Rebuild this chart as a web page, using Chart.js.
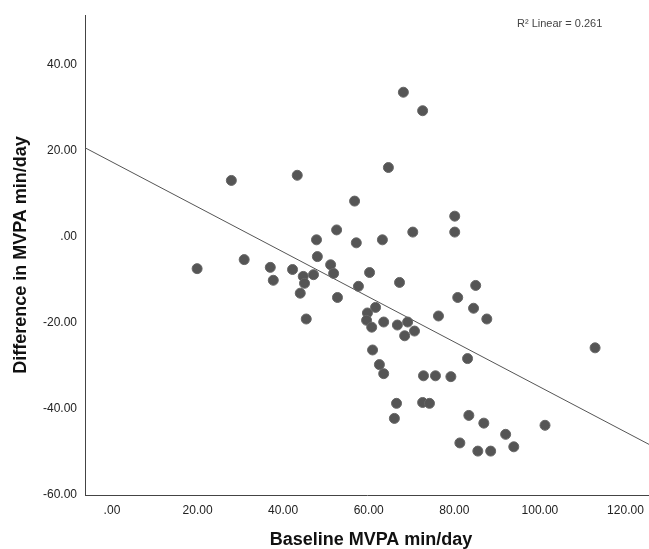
<!DOCTYPE html>
<html>
<head>
<meta charset="utf-8">
<script src="https://cdn.jsdelivr.net/npm/chart.js@4.4.1/dist/chart.umd.min.js"></script>
<style>
  html, body { margin: 0; padding: 0; background: #fff; }
  #wrap { width: 649px; height: 549px; }
</style>
</head>
<body>
<div id="wrap"><canvas id="scatterChart" width="649" height="549"></canvas></div>
<script>
// Baseline MVPA (x) and difference in MVPA (y)
var baselineMvpa = [19.9, 27.9, 30.9, 43.3, 37.0, 37.7, 42.2, 44.7, 45.0, 44.0,
  47.1, 48.0, 47.8, 52.5, 51.1, 51.8, 52.7, 45.4, 64.6, 56.7,
  57.1, 63.2, 70.3, 80.1, 80.1, 60.2, 57.6, 67.2, 85.0, 80.8,
  61.6, 59.7, 59.5, 60.7, 63.5, 66.7, 69.1, 70.7, 68.4, 76.3,
  84.5, 60.9, 62.5, 63.5, 72.8, 75.6, 79.2, 83.1, 66.5, 66.0,
  72.6, 74.2, 83.4, 81.3, 85.5, 86.9, 92.0, 93.9, 88.5, 101.2,
  112.9, 87.6, 68.1, 72.6];
var diffMvpa = [-7.4, 13.1, -5.3, 14.3, -7.1, -10.1, -7.6, -9.2, -10.8, -13.1,
  -8.8, -4.6, -0.7, 1.6, -6.5, -8.5, -14.1, -19.1, 16.1, 8.3,
  -1.4, -0.7, 1.1, 4.8, 1.1, -8.3, -11.5, -10.6, -11.3, -14.1,
  -16.4, -17.7, -19.4, -21.0, -19.8, -20.5, -19.8, -21.9, -23.0, -18.4,
  -16.6, -26.3, -29.7, -31.8, -32.3, -32.3, -32.5, -28.3, -38.7, -42.2,
  -38.5, -38.7, -41.5, -47.9, -49.8, -43.3, -45.9, -48.8, -49.8, -43.8,
  -25.8, -19.1, 33.6, 29.3];

// Linear fit (R2 = 0.261)
var fitIntercept = 17.4;
var fitSlope = -0.523;

var xTicks = [0, 20, 40, 60, 80, 100, 120];
var yTicks = [-60, -40, -20, 0, 20, 40];
var xMin = -6.3, xMax = 125.5;
var yMin = -60, yMax = 51.5;

var points = baselineMvpa.map(function (x, i) { return { x: x, y: diffMvpa[i] }; });
var fitLine = [
  { x: xMin, y: fitIntercept + fitSlope * xMin },
  { x: xMax, y: fitIntercept + fitSlope * xMax }
];

function fmt(v) {
  if (v === 0) return '.00';
  return v.toFixed(2);
}

var textPlugin = {
  id: 'spssText',
  afterDraw: function (chart) {
    var ctx = chart.ctx;
    ctx.save();
    ctx.fillStyle = '#111';
    ctx.font = 'bold 18px "Liberation Sans", Arial, sans-serif';
    ctx.textAlign = 'center';
    ctx.textBaseline = 'middle';
    ctx.fillText('Baseline MVPA min/day', 371, 540);
    ctx.translate(21, 255);
    ctx.rotate(-Math.PI / 2);
    ctx.fillText('Difference in MVPA min/day', 0, 0);
    ctx.restore();

    ctx.save();
    ctx.fillStyle = '#444';
    ctx.font = '11px "Liberation Sans", Arial, sans-serif';
    ctx.textAlign = 'left';
    ctx.textBaseline = 'middle';
    ctx.fillText('R\u00b2 Linear = 0.261', 517, 24);
    ctx.restore();
  }
};

var tickFont = { family: '"Liberation Sans", Arial, sans-serif', size: 12 };

var myScatterChart = new Chart(document.getElementById('scatterChart'), {
  type: 'scatter',
  data: {
    datasets: [{
      label: 'Cases',
      data: points,
      backgroundColor: '#555555',
      borderColor: '#666666',
      borderWidth: 1,
      pointRadius: 5,
      pointHoverRadius: 5
    }, {
      label: 'Linear fit',
      data: fitLine,
      showLine: true,
      borderColor: '#555555',
      borderWidth: 1,
      pointRadius: 0,
      fill: false
    }]
  },
  plugins: [textPlugin],
  options: {
    responsive: false,
    animation: false,
    layout: { autoPadding: false, padding: { top: 14, right: 0, left: 0, bottom: 0 } },
    plugins: {
      legend: { display: false },
      tooltip: { enabled: false }
    },
    scales: {
      x: {
        type: 'linear',
        min: xMin,
        max: xMax,
        afterBuildTicks: function (scale) {
          scale.ticks = xTicks.map(function (v) { return { value: v }; });
        },
        afterFit: function (scale) {
          scale.height = 54;
          scale.paddingLeft = 0;
          scale.paddingRight = 0;
        },
        grid: { display: false, drawTicks: false },
        border: { display: true, color: '#444', width: 1 },
        ticks: {
          color: '#222',
          font: tickFont,
          padding: 8,
          maxRotation: 0,
          callback: function (v) { return fmt(v); }
        }
      },
      y: {
        type: 'linear',
        min: yMin,
        max: yMax,
        afterBuildTicks: function (scale) {
          scale.ticks = yTicks.map(function (v) { return { value: v }; });
        },
        afterFit: function (scale) { scale.width = 85; },
        grid: { display: false, drawTicks: false },
        border: { display: true, color: '#444', width: 1 },
        ticks: {
          color: '#222',
          font: tickFont,
          padding: 8,
          callback: function (v) { return fmt(v); }
        }
      }
    }
  }
});
</script>
</body>
</html>
